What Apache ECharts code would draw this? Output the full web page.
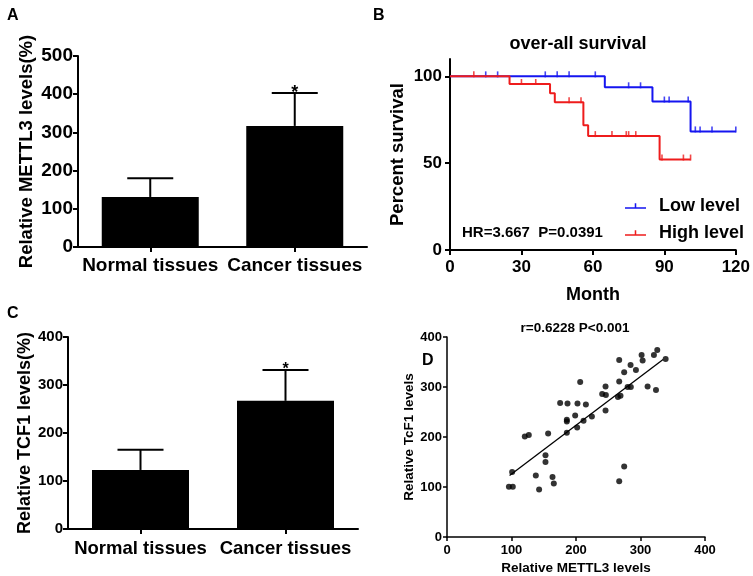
<!DOCTYPE html>
<html><head><meta charset="utf-8">
<script src="https://cdn.jsdelivr.net/npm/echarts@6/dist/echarts.min.js"></script>
<style>html,body{margin:0;padding:0;background:#fff}#c{width:753px;height:576px}</style>
</head><body><div id="c"></div>
<script>
// ---- Panel A / C : bar charts ----
const barCategories = ['Normal tissues', 'Cancer tissues'];
const mettl3Mean = [131, 317];
const mettl3Upper = [180, 403];
const tcf1Mean = [123, 267];
const tcf1Upper = [165, 331];
const sigMarks = ['', '*'];
const mettl3Ticks = [0, 100, 200, 300, 400, 500];
const tcf1Ticks = [0, 100, 200, 300, 400];

// ---- Panel B : survival ----
const lowSteps = [[0, 100], [65, 93.7], [85, 85.5], [101, 68.3], [120, 68.3]];
const highSteps = [[0, 100], [25, 95.6], [42, 90.3], [44, 85.1], [56, 71.8], [58, 65.6], [88, 52.1], [101, 52.1]];
const lowCensor = [15, 20, 40, 45, 50, 61, 75, 80, 90, 92, 100, 103, 105, 110, 120];
const highCensor = [10, 30, 36, 50, 55, 61, 68, 74, 75, 78, 89, 98, 101];
const survivalYTicks = [0, 50, 100];
const monthTicks = [0, 30, 60, 90, 120];

// ---- Panel D : scatter ----
const scatterPoints = [
  [96, 100.5], [102, 100.5], [101, 130], [120.6, 201], [126.8, 204], [137.7, 123], [142.8, 95],
  [152.7, 163.5], [152.7, 150], [156.8, 207], [163.6, 120], [165.6, 107], [175.4, 268], [186.8, 267],
  [185.8, 234.6], [185.8, 231], [185.8, 208.7], [198.7, 243], [202.3, 267], [201.8, 219], [206.5, 310],
  [211.7, 232.6], [215.3, 265], [224.6, 241], [240.6, 286], [246.3, 284], [245.8, 301], [245.8, 253],
  [267, 354], [267, 311], [265, 280], [269, 282.4], [267, 111.6], [274.7, 329.7], [274.7, 141],
  [280, 300], [285, 300], [284.6, 344], [292.9, 334], [301.7, 364], [303.3, 352.8], [311, 301],
  [320.8, 364], [326, 374], [324, 294], [339, 356]
];
const fitLine = [[97, 123], [335, 355]];
const scatterTicks = [0, 100, 200, 300, 400];

const FONT = 'Liberation Sans, Arial, sans-serif';
const BLUE = '#1515f0';
const RED = '#ee1c1c';

function stepValue(steps, t) {
  let y = steps[0][1];
  for (const s of steps) { if (s[0] <= t) y = s[1]; }
  return y;
}

function errRender(capHalf, starSize, starOffset) {
  return function (params, api) {
    const x = api.value(0);
    const p1 = api.coord([x, api.value(1)]);
    const p2 = api.coord([x, api.value(2)]);
    const st = { stroke: '#000', lineWidth: 2 };
    const children = [
      { type: 'line', shape: { x1: p1[0], y1: p1[1], x2: p2[0], y2: p2[1] }, style: st },
      { type: 'line', shape: { x1: p2[0] - capHalf, y1: p2[1], x2: p2[0] + capHalf, y2: p2[1] }, style: st }
    ];
    const mark = sigMarks[params.dataIndex];
    if (mark) {
      children.push({ type: 'text', style: { text: mark, x: p2[0], y: p2[1] + starOffset, align: 'center', verticalAlign: 'bottom',
        font: 'bold ' + starSize + 'px ' + FONT, fill: '#000' } });
    }
    return { type: 'group', children };
  };
}

const axLine = (w) => ({ show: true, lineStyle: { color: '#000', width: w } });
const tick = (w, len) => ({ show: true, inside: false, length: len, lineStyle: { color: '#000', width: w } });
const lbl = (size, margin) => ({ color: '#000', fontFamily: FONT, fontWeight: 'bold', fontSize: size, margin });
const nameStyle = (size) => ({ color: '#000', fontFamily: FONT, fontWeight: 'bold', fontSize: size });

const option = {
  animation: false,
  backgroundColor: '#fff',
  title: [
    { text: 'A', left: 2, top: 3, textStyle: { fontSize: 16, fontWeight: 'bold', fontFamily: FONT, color: '#000' } },
    { text: 'B', left: 368, top: 3, textStyle: { fontSize: 16, fontWeight: 'bold', fontFamily: FONT, color: '#000' } },
    { text: 'C', left: 2, top: 301, textStyle: { fontSize: 16, fontWeight: 'bold', fontFamily: FONT, color: '#000' } },
    { text: 'D', left: 417, top: 348, textStyle: { fontSize: 16, fontWeight: 'bold', fontFamily: FONT, color: '#000' } },
    { text: 'over-all survival', left: 578, top: 35, textAlign: 'center', padding: 0, textStyle: { fontSize: 18, fontWeight: 'bold', fontFamily: FONT, color: '#000' } },
    { text: 'HR=3.667  P=0.0391', left: 462, top: 225, padding: 0, textStyle: { fontSize: 15, fontWeight: 'bold', fontFamily: FONT, color: '#000' } },
    { text: 'r=0.6228 P<0.001', left: 575, top: 321, textAlign: 'center', padding: 0, textStyle: { fontSize: 13.5, fontWeight: 'bold', fontFamily: FONT, color: '#000' } }
  ],
  legend: {
    data: ['Low level', 'High level'],
    orient: 'vertical',
    left: 620, top: 192,
    itemWidth: 21, itemHeight: 6, itemGap: 9,
    icon: 'path://M0,4.2h22v1.6h-22z M10.2,0h1.6v5.8h-1.6z',
    textStyle: { color: '#000', fontFamily: FONT, fontWeight: 'bold', fontSize: 18, padding: [0, 0, 0, 8] }
  },
  grid: [
    { left: 78, top: 56, width: 289, height: 191 },
    { left: 450, top: 59, width: 287, height: 191 },
    { left: 68, top: 337, width: 290, height: 192 },
    { left: 447, top: 337, width: 258, height: 201 }
  ],
  xAxis: [
    { gridIndex: 0, type: 'category', data: barCategories, axisLine: axLine(2), axisTick: Object.assign(tick(2, 5), { alignWithLabel: true }),
      axisLabel: Object.assign(lbl(19, 9), { interval: 0, hideOverlap: false }), splitLine: { show: false } },
    { gridIndex: 1, type: 'value', min: 0, max: 120, interval: 30, name: 'Month', nameLocation: 'middle', nameGap: 36, nameTextStyle: nameStyle(18),
      axisLine: axLine(2), axisTick: tick(2, 5), axisLabel: lbl(17, 9), splitLine: { show: false } },
    { gridIndex: 2, type: 'category', data: barCategories, axisLine: axLine(2), axisTick: Object.assign(tick(2, 5), { alignWithLabel: true }),
      axisLabel: Object.assign(lbl(18.5, 10), { interval: 0, hideOverlap: false }), splitLine: { show: false } },
    { gridIndex: 3, type: 'value', min: 0, max: 400, interval: 100, name: 'Relative METTL3 levels', nameLocation: 'middle', nameGap: 24, nameTextStyle: nameStyle(13.5),
      axisLine: axLine(1.5), axisTick: tick(1.5, 4), axisLabel: lbl(13, 7), splitLine: { show: false } }
  ],
  yAxis: [
    { gridIndex: 0, type: 'value', min: 0, max: 500, interval: 100, name: 'Relative METTL3 levels(%)', nameLocation: 'middle', nameGap: 42, nameTextStyle: nameStyle(18.5),
      axisLine: axLine(2), axisTick: tick(2, 5), axisLabel: lbl(19, 5), splitLine: { show: false } },
    { gridIndex: 1, type: 'value', min: 0, max: 110, name: 'Percent survival', nameLocation: 'middle', nameGap: 43, nameTextStyle: nameStyle(18.5),
      axisLine: axLine(2), axisTick: Object.assign(tick(2, 5), { customValues: survivalYTicks }), axisLabel: Object.assign(lbl(17, 8), { customValues: survivalYTicks }), splitLine: { show: false } },
    { gridIndex: 2, type: 'value', min: 0, max: 400, interval: 100, name: 'Relative TCF1 levels(%)', nameLocation: 'middle', nameGap: 34, nameTextStyle: nameStyle(18),
      axisLine: axLine(2), axisTick: tick(2, 5), axisLabel: lbl(15, 5), splitLine: { show: false } },
    { gridIndex: 3, type: 'value', min: 0, max: 400, interval: 100, name: 'Relative TcF1 levels', nameLocation: 'middle', nameGap: 30, nameTextStyle: nameStyle(13.5),
      axisLine: axLine(1.5), axisTick: tick(1.5, 4), axisLabel: lbl(13, 5), splitLine: { show: false } }
  ],
  series: [
    { type: 'bar', xAxisIndex: 0, yAxisIndex: 0, data: mettl3Mean, barWidth: 97, itemStyle: { color: '#000' } },
    { type: 'custom', xAxisIndex: 0, yAxisIndex: 0, z: 5, renderItem: errRender(23, 18, 9),
      data: mettl3Mean.map((m, i) => [i, m, mettl3Upper[i]]) },
    { type: 'bar', xAxisIndex: 2, yAxisIndex: 2, data: tcf1Mean, barWidth: 97, itemStyle: { color: '#000' } },
    { type: 'custom', xAxisIndex: 2, yAxisIndex: 2, z: 5, renderItem: errRender(23, 16, 7),
      data: tcf1Mean.map((m, i) => [i, m, tcf1Upper[i]]) },
    { name: 'Low level', type: 'line', xAxisIndex: 1, yAxisIndex: 1, step: 'end', data: lowSteps, showSymbol: false, symbol: 'none',
      lineStyle: { color: BLUE, width: 2 }, itemStyle: { color: BLUE }, z: 3 },
    { name: 'High level', type: 'line', xAxisIndex: 1, yAxisIndex: 1, step: 'end', data: highSteps, showSymbol: false, symbol: 'none',
      lineStyle: { color: RED, width: 2 }, itemStyle: { color: RED }, z: 4 },
    { type: 'scatter', xAxisIndex: 1, yAxisIndex: 1, data: lowCensor.map(t => [t, stepValue(lowSteps, t)]), symbol: 'rect', symbolSize: [1.6, 6], symbolOffset: [0, -2],
      itemStyle: { color: BLUE }, z: 3 },
    { type: 'scatter', xAxisIndex: 1, yAxisIndex: 1, data: highCensor.map(t => [t, stepValue(highSteps, t)]), symbol: 'rect', symbolSize: [1.6, 6], symbolOffset: [0, -2],
      itemStyle: { color: RED }, z: 4 },
    { type: 'scatter', xAxisIndex: 3, yAxisIndex: 3, data: scatterPoints, symbol: 'circle', symbolSize: 6, itemStyle: { color: '#000' } },
    { type: 'line', xAxisIndex: 3, yAxisIndex: 3, data: fitLine, showSymbol: false, symbol: 'none', lineStyle: { color: '#000', width: 1.3 } }
  ]
};
echarts.init(document.getElementById('c'), null, { renderer: 'canvas' }).setOption(option);
</script></body></html>
